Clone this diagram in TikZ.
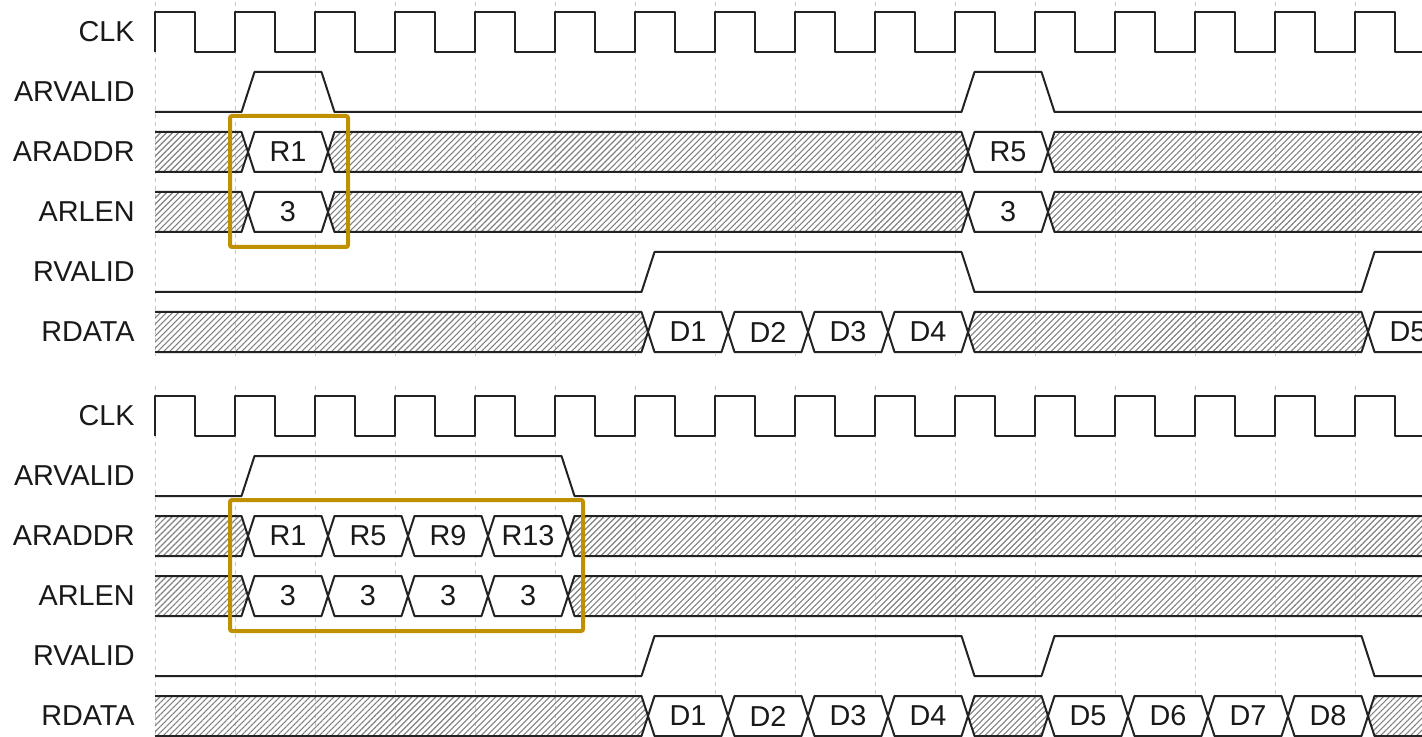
\documentclass[tikz,border=0pt]{standalone}
\usepackage{fontspec}
\setmainfont{Liberation Sans}
\usetikzlibrary{patterns.meta}
\definecolor{hlgold}{RGB}{191,144,0}
\definecolor{wvink}{RGB}{34,34,34}

% bus cell with pointed ends: top y, start grid, end grid, fill style, text
\newcommand{\wvcell}[5]{%
  \draw[wave,#4] ({#2+13},{#1+20}) -- ({#2+19.5},{#1}) -- ({#3+6.5},{#1}) -- ({#3+13},{#1+20})
    -- ({#3+6.5},{#1+40}) -- ({#2+19.5},{#1+40}) -- cycle;
  \node[cell] (cell-#1-#2) at ({(#2+#3)/2+13},{#1+20}) {#5};
}
% don't-care stretch between two transitions
\newcommand{\wvdc}[3]{%
  \draw[wave,hatch] ({#2+13},{#1+20}) -- ({#2+19.5},{#1}) -- ({#3+6.5},{#1}) -- ({#3+13},{#1+20})
    -- ({#3+6.5},{#1+40}) -- ({#2+19.5},{#1+40}) -- cycle;
}
% opening segment from the left edge up to the first transition
\newcommand{\wvfirst}[2]{%
  \path[hatch] (155,{#1}) -- ({#2+6.5},{#1}) -- ({#2+13},{#1+20}) -- ({#2+6.5},{#1+40}) -- (155,{#1+40}) -- cycle;
  \draw[wave] (155,{#1}) -- ({#2+6.5},{#1}) -- ({#2+13},{#1+20}) -- ({#2+6.5},{#1+40}) -- (155,{#1+40});
}
% closing segment running off the right edge
\newcommand{\wvlast}[3]{%
  \path[#3] ({#2+13},{#1+20}) -- ({#2+19.5},{#1}) -- (1440,{#1}) -- (1440,{#1+40}) -- ({#2+19.5},{#1+40}) -- cycle;
  \draw[wave] (1440,{#1}) -- ({#2+19.5},{#1}) -- ({#2+13},{#1+20}) -- ({#2+19.5},{#1+40}) -- (1440,{#1+40});
}
% clock with rising edges every 80 units
\newcommand{\wvclock}[1]{%
  \draw[wave] (155,{#1+40}) -- (155,{#1})
    \foreach \k in {0,...,15} { -- ({195+80*\k},{#1}) -- ({195+80*\k},{#1+40}) -- ({235+80*\k},{#1+40}) -- ({235+80*\k},{#1}) };
}

\begin{document}
\begin{tikzpicture}[x=0.5pt,y=-0.5pt,
  wave/.style={line width=1pt,draw=wvink,line join=round},
  hatch/.style={pattern={Lines[angle=45,distance=2.12pt,line width=0.55pt]},pattern color=black!50},
  clear/.style={fill=white},
  gridl/.style={draw=black!22,line width=0.5pt,dash pattern=on 2pt off 2pt},
  lbl/.style={anchor=east,inner sep=0pt,font=\fontsize{14.4}{17}\selectfont,text=black!90},
  cell/.style={inner sep=0pt,font=\fontsize{14.4}{17}\selectfont,text=black!90},
  hl/.style={draw=hlgold,line width=2pt,rounded corners=1pt}]
\clip (0,0) rectangle (1422,737);

% time grid
\foreach \k in {0,...,15} {
  \draw[gridl] ({155+80*\k},2) -- ({155+80*\k},356);
  \draw[gridl] ({155+80*\k},386) -- ({155+80*\k},740);
}

% ---------- single-burst read ----------
\node[lbl] (l1clk) at (135,32) {CLK};
\node[lbl] (l1arv) at (135,92) {ARVALID};
\node[lbl] (l1ara) at (135,152) {ARADDR};
\node[lbl] (l1arl) at (135,212) {ARLEN};
\node[lbl] (l1rv)  at (135,272) {RVALID};
\node[lbl] (l1rd)  at (135,332) {RDATA};

\wvclock{12}
\draw[wave] (155,112) -- (241.5,112) -- (254.5,72) -- (321.5,72) -- (334.5,112) -- (961.5,112)
  -- (974.5,72) -- (1041.5,72) -- (1054.5,112) -- (1440,112);

\wvfirst{132}{235}
\wvcell{132}{235}{315}{clear}{R1}
\wvdc{132}{315}{955}
\wvcell{132}{955}{1035}{clear}{R5}
\wvlast{132}{1035}{hatch}

\wvfirst{192}{235}
\wvcell{192}{235}{315}{clear}{3}
\wvdc{192}{315}{955}
\wvcell{192}{955}{1035}{clear}{3}
\wvlast{192}{1035}{hatch}

\draw[wave] (155,292) -- (641.5,292) -- (654.5,252) -- (961.5,252) -- (974.5,292) -- (1361.5,292)
  -- (1374.5,252) -- (1440,252);

\wvfirst{312}{635}
\wvcell{312}{635}{715}{clear}{D1}
\wvcell{312}{715}{795}{clear}{D2}
\wvcell{312}{795}{875}{clear}{D3}
\wvcell{312}{875}{955}{clear}{D4}
\wvdc{312}{955}{1355}
\wvlast{312}{1355}{clear}
\node[cell] (d5top) at (1408,332) {D5};

\draw[hl] (230,116) rectangle (348,247);

% ---------- back-to-back reads ----------
\node[lbl] (l2clk) at (135,416) {CLK};
\node[lbl] (l2arv) at (135,476) {ARVALID};
\node[lbl] (l2ara) at (135,536) {ARADDR};
\node[lbl] (l2arl) at (135,596) {ARLEN};
\node[lbl] (l2rv)  at (135,656) {RVALID};
\node[lbl] (l2rd)  at (135,716) {RDATA};

\wvclock{396}
\draw[wave] (155,496) -- (241.5,496) -- (254.5,456) -- (561.5,456) -- (574.5,496) -- (1440,496);

\wvfirst{516}{235}
\wvcell{516}{235}{315}{clear}{R1}
\wvcell{516}{315}{395}{clear}{R5}
\wvcell{516}{395}{475}{clear}{R9}
\wvcell{516}{475}{555}{clear}{R13}
\wvlast{516}{555}{hatch}

\wvfirst{576}{235}
\wvcell{576}{235}{315}{clear}{3}
\wvcell{576}{315}{395}{clear}{3}
\wvcell{576}{395}{475}{clear}{3}
\wvcell{576}{475}{555}{clear}{3}
\wvlast{576}{555}{hatch}

\draw[wave] (155,676) -- (641.5,676) -- (654.5,636) -- (961.5,636) -- (974.5,676) -- (1041.5,676)
  -- (1054.5,636) -- (1361.5,636) -- (1374.5,676) -- (1440,676);

\wvfirst{696}{635}
\wvcell{696}{635}{715}{clear}{D1}
\wvcell{696}{715}{795}{clear}{D2}
\wvcell{696}{795}{875}{clear}{D3}
\wvcell{696}{875}{955}{clear}{D4}
\wvdc{696}{955}{1035}
\wvcell{696}{1035}{1115}{clear}{D5}
\wvcell{696}{1115}{1195}{clear}{D6}
\wvcell{696}{1195}{1275}{clear}{D7}
\wvcell{696}{1275}{1355}{clear}{D8}
\wvlast{696}{1355}{hatch}

\draw[hl] (230,500) rectangle (583,631);
\end{tikzpicture}
\end{document}
